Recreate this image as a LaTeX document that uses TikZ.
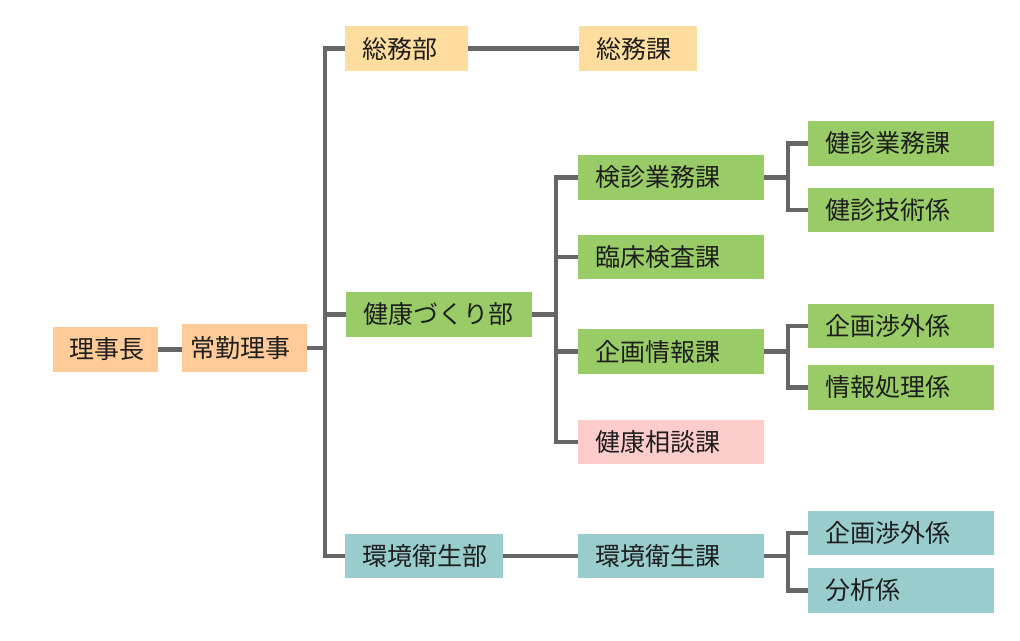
\documentclass[tikz,border=0pt]{standalone}
\usepackage{fontspec}
\newfontfamily\jpfont{Noto Sans CJK JP}
\definecolor{peach}{HTML}{FFCC99}
\definecolor{sand}{HTML}{FFDD9F}
\definecolor{leaf}{HTML}{99CC66}
\definecolor{rose}{HTML}{FFCCCC}
\definecolor{teal}{HTML}{99CCCC}
\definecolor{linegray}{HTML}{666666}
\definecolor{ink}{HTML}{1E1E1E}
\tikzset{
  box/.style={rectangle, inner xsep=17pt, inner ysep=0pt, align=left,
    text=ink, font=\jpfont\fontsize{25}{25}\selectfont},
  conn/.style={draw=linegray, line width=4.5pt, line join=miter},
}
% \orgbox{name}{x0}{x1}{y0}{y1}{colour}{text}
\newcommand{\orgbox}[7]{%
  \pgfmathsetmacro{\bw}{#3-#2}%
  \pgfmathsetmacro{\bh}{#5-#4}%
  \pgfmathsetmacro{\cx}{(#2+#3)/2}%
  \pgfmathsetmacro{\cy}{(#4+#5)/2}%
  \node[box, fill=#6, text width=\bw pt-34pt, minimum height=\bh pt] (#1) at (\cx,\cy) {#7};%
}
\begin{document}
\begin{tikzpicture}[x=1pt,y=-1pt]
\useasboundingbox (0,0) rectangle (1020,640);
\fill[white] (0,0) rectangle (1020,640);

% column 1
\node[box, fill=peach, inner xsep=16pt, text width=73pt, minimum height=45pt] (rj) at (105.5,349.5) {理事長};
\node[box, fill=peach, inner xsep=8pt, text width=109pt, minimum height=48pt] (jk) at (244.5,348) {常勤理事};

% departments
\orgbox{sm}{345}{468}{26}{71}{sand}{総務部}
\orgbox{kk}{346}{532}{292}{337}{leaf}{健康づくり部}
\orgbox{kes}{345}{503}{534}{578}{teal}{環境衛生部}

% sections
\orgbox{smk}{579}{697}{26}{71}{sand}{総務課}
\orgbox{kss}{578}{764}{155}{200}{leaf}{検診業務課}
\orgbox{rs}{578}{764}{235}{279}{leaf}{臨床検査課}
\orgbox{kj}{578}{764}{329}{374}{leaf}{企画情報課}
\orgbox{ks}{578}{764}{420}{464}{rose}{健康相談課}
\orgbox{kek}{578}{764}{534}{578}{teal}{環境衛生課}

% units
\orgbox{kg}{808}{994}{121}{166}{leaf}{健診業務課}
\orgbox{kgj}{808}{994}{188}{232}{leaf}{健診技術係}
\orgbox{ksg}{808}{994}{304}{348}{leaf}{企画渉外係}
\orgbox{jsr}{808}{994}{365}{410}{leaf}{情報処理係}
\orgbox{ksg2}{808}{994}{511}{555}{teal}{企画渉外係}
\orgbox{bs}{808}{994}{568}{613}{teal}{分析係}

% trunk positions
\coordinate (t1) at (325,0);
\coordinate (t2) at (556,0);
\coordinate (t3) at (788,0);

% connectors
\draw[conn] (rj.east) -- (rj.east -| jk.west);
\draw[conn] (jk.east) -- (jk.east -| t1);
\draw[conn] (sm.west) -- (sm.west -| t1) |- (kes.west);
\draw[conn] (kk.west) -- (kk.west -| t1);
\draw[conn] (sm.east) -- (smk.west);
\draw[conn] (kes.east) -- (kek.west);

\draw[conn] (kss.west) -- (kss.west -| t2) |- (ks.west);
\draw[conn] (kk.east) -- (kk.east -| t2);
\draw[conn] (rs.west) -- (rs.west -| t2);
\draw[conn] (kj.west) -- (kj.west -| t2);

\draw[conn] (kg.west) -- (kg.west -| t3) |- (kgj.west);
\draw[conn] (kss.east) -- (kss.east -| t3);
\draw[conn] (ksg.west) -- (ksg.west -| t3) |- (jsr.west);
\draw[conn] (kj.east) -- (kj.east -| t3);
\draw[conn] (ksg2.west) -- (ksg2.west -| t3) |- (bs.west);
\draw[conn] (kek.east) -- (kek.east -| t3);
\end{tikzpicture}
\end{document}
